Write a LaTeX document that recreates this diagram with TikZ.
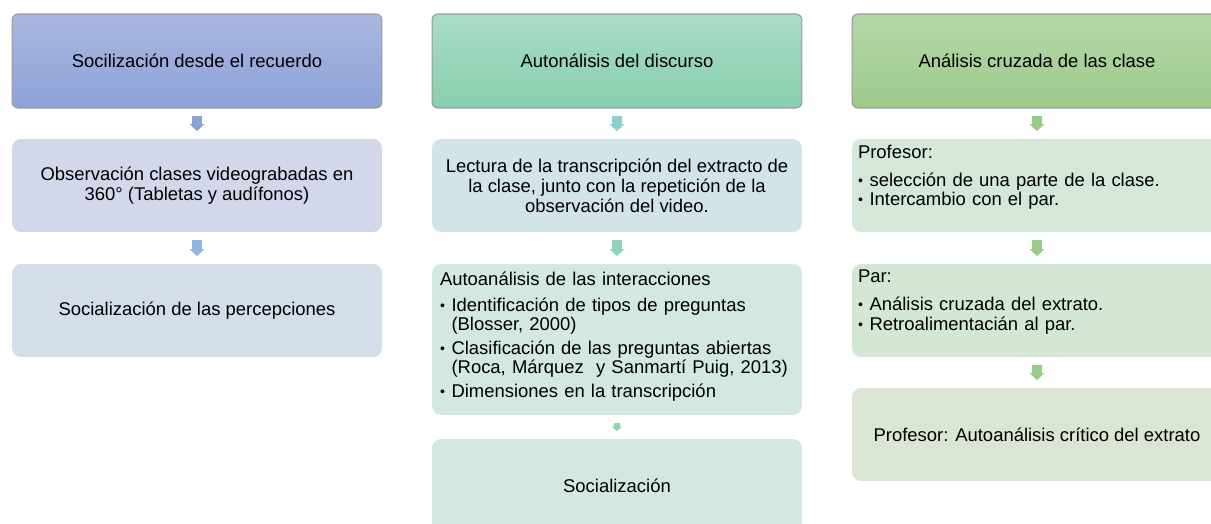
\documentclass[tikz,border=0pt]{standalone}
\usepackage{fontspec}
\setmainfont{Liberation Sans}
\usepackage{xcolor}
\usetikzlibrary{arrows.meta}

\definecolor{headAtop}{HTML}{A9B7E0}
\definecolor{headAbot}{HTML}{8EA2D7}
\definecolor{headBtop}{HTML}{A9DCC7}
\definecolor{headBbot}{HTML}{88CFAE}
\definecolor{headCtop}{HTML}{B5D7A8}
\definecolor{headCbot}{HTML}{9DCA8B}
\definecolor{fillAa}{HTML}{D2D7EA}
\definecolor{fillAb}{HTML}{D4DEEA}
\definecolor{fillBa}{HTML}{D3E4E9}
\definecolor{fillBb}{HTML}{D3E8E3}
\definecolor{fillBc}{HTML}{D3E8DF}
\definecolor{fillCa}{HTML}{D4E7D8}
\definecolor{fillCb}{HTML}{D4E6D4}
\definecolor{fillCc}{HTML}{DAE5D3}
\definecolor{arrAa}{HTML}{8EA1D6}
\definecolor{arrAb}{HTML}{93B4DB}
\definecolor{arrBa}{HTML}{8DCFCB}
\definecolor{arrBb}{HTML}{8DD4B8}
\definecolor{arrBc}{HTML}{8DD3AE}
\definecolor{arrC}{HTML}{9BCB8B}

\newcommand{\bul}[1]{\par\hangindent=0.23cm\hangafter=1\noindent\makebox[0.23cm][l]{\raisebox{0.5pt}{\footnotesize\textbullet}}#1}

\begin{document}
\begin{tikzpicture}[x=0.02cm,y=-0.02cm,
    every node/.style={font=\fontsize{10.5}{11.4}\selectfont},
    header/.style={draw=black!40, line width=0.6pt, rounded corners=0.12cm,
        minimum width=7.4cm, minimum height=1.88cm},
    stepbox/.style={rounded corners=0.18cm, minimum width=7.4cm,
        minimum height=1.86cm, align=center},
    listtext/.style={anchor=north west, align=left, text width=7cm, inner sep=0pt},
    flowarrow/.style={line width=5.7pt,
        -{Triangle[width=8.5pt,length=4pt,line width=0pt]},
        shorten <=4.3pt, shorten >=4.3pt},
    smallarrow/.style={line width=3.2pt,
        -{Triangle[width=6pt,length=2.6pt,line width=0pt]},
        shorten <=4.3pt, shorten >=4.3pt}]
        \useasboundingbox (0,0) rectangle (1211,524);
        \clip (0,0) rectangle (1211,524);

        % Socilizacion desde el recuerdo
        \node[header, top color=headAtop, bottom color=headAbot] (hA) at (197,61)
            {Socilización desde el recuerdo};
        \node[stepbox, fill=fillAa] (obs) at (197,185.5)
            {Observación clases videograbadas en\\360° (Tabletas y audífonos)};
        \node[stepbox, fill=fillAb] (per) at (197,310.5)
            {Socialización de las percepciones};

        % Autonalisis del discurso
        \node[header, top color=headBtop, bottom color=headBbot] (hB) at (617,61)
            {Autonálisis del discurso};
        \node[stepbox, fill=fillBa] (lec) at (617,185.5)
            {Lectura de la transcripción del extracto de\\la clase, junto con la repetición de la\\observación del video.};
        \node[stepbox, fill=fillBb, minimum height=3.02cm] (aut) at (617,339.5) {};
        \node[listtext, font=\fontsize{10.5}{9.4}\selectfont] at ([shift={(8,8)}]aut.north west)
            {Autoanálisis de las interacciones\par\vspace{5.5pt}
            \bul{Identificación de tipos de preguntas\newline(Blosser, 2000)}\par\vspace{2.5pt}
            \bul{Clasificación de las preguntas abiertas\newline(Roca, Márquez\ \ y Sanmartí Puig, 2013)}\par\vspace{2.5pt}
            \bul{Dimensiones en la transcripción}};
        \node[stepbox, fill=fillBc, minimum height=1.88cm] (soc) at (617,486)
            {Socialización};

        % Analisis cruzada de las clase
        \node[header, top color=headCtop, bottom color=headCbot] (hC) at (1037,61)
            {Análisis cruzada de las clase};
        \node[stepbox, fill=fillCa] (pro) at (1037,185.5) {};
        \node[listtext, font=\fontsize{10.5}{11}\selectfont] at ([shift={(6,6)}]pro.north west)
            {Profesor:\par\vspace{5pt}
            \bul{selección de una parte de la clase.}
            \bul{Intercambio con el par.}};
        \node[stepbox, fill=fillCb] (par) at (1037,310.5) {};
        \node[listtext, font=\fontsize{10.5}{11}\selectfont] at ([shift={(6,6)}]par.north west)
            {Par:\par\vspace{5pt}
            \bul{Análisis cruzada del extrato.}
            \bul{Retroalimentacián al par.}};
        \node[stepbox, fill=fillCc] (cri) at (1037,434.5)
            {Profesor: Autoanálisis crítico del extrato};

        % Arrows
        \draw[flowarrow, arrAa] (hA) -- (obs);
        \draw[flowarrow, arrAb] (obs) -- (per);
        \draw[flowarrow, arrBa] (hB) -- (lec);
        \draw[flowarrow, arrBb] (lec) -- (aut);
        \draw[smallarrow, arrBc] (aut) -- (soc);
        \draw[flowarrow, arrC] (hC) -- (pro);
        \draw[flowarrow, arrC] (pro) -- (par);
        \draw[flowarrow, arrC] (par) -- (cri);
    \end{tikzpicture}
\end{document}
